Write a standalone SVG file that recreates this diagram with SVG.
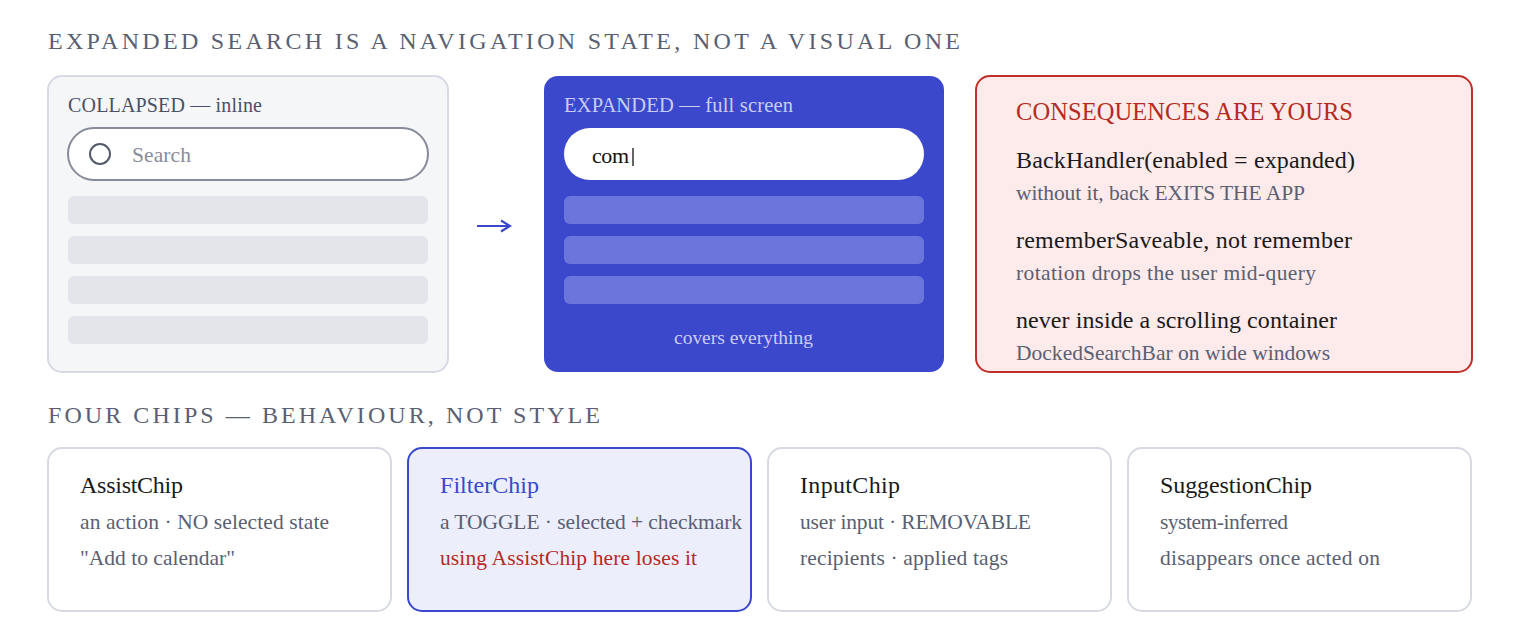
<svg xmlns="http://www.w3.org/2000/svg" width="1520" height="640" viewBox="0 0 1520 640">
<defs>
<marker id="ah" viewBox="0 0 12 14" refX="10" refY="7" markerWidth="12" markerHeight="14" markerUnits="userSpaceOnUse" orient="auto">
<path d="M1,1.5 L10,7 L1,12.5" fill="none" stroke="#3b48cc" stroke-width="2.2"/>
</marker>
</defs>
<style>
text{font-family:"Liberation Serif","DejaVu Serif",serif}
.h{font-size:24px;fill:#5a5f72;letter-spacing:3px}
.lbl{font-size:20px;fill:#4b5064}
.row{fill:#e4e5ea}
.erow{fill:#6b76dc}
.t1{font-size:24px;fill:#1a1a1a}
.t2{font-size:21.5px;fill:#5a5f72}
.chip{fill:#ffffff;stroke:#d8dae3;stroke-width:2}
</style>
<rect width="1520" height="640" fill="#ffffff"/>
<text class="h" x="48" y="49" textLength="915">EXPANDED SEARCH IS A NAVIGATION STATE, NOT A VISUAL ONE</text>
<g id="collapsed">
<rect x="48" y="76" width="400" height="296" rx="14" fill="#f5f6f8" stroke="#d8dae3" stroke-width="2"/>
<text class="lbl" x="68" y="112" textLength="194">COLLAPSED — inline</text>
<rect x="68" y="128" width="360" height="52" rx="26" fill="#ffffff" stroke="#868a9a" stroke-width="2"/>
<circle cx="100" cy="154" r="10" fill="none" stroke="#555a6b" stroke-width="2"/>
<text x="132" y="162" textLength="59" style="font-size:21.5px;fill:#888c9c">Search</text>
<rect class="row" x="68" y="196" width="360" height="28" rx="6"/>
<rect class="row" x="68" y="236" width="360" height="28" rx="6"/>
<rect class="row" x="68" y="276" width="360" height="28" rx="6"/>
<rect class="row" x="68" y="316" width="360" height="28" rx="6"/>
</g>
<g id="connectors">
<line x1="477" y1="226" x2="510" y2="226" stroke="#3b48cc" stroke-width="2.2" marker-end="url(#ah)"/>
</g>
<g id="expanded">
<rect x="544" y="76" width="400" height="296" rx="14" fill="#3b48cc"/>
<text x="564" y="112" textLength="229" style="font-size:20.5px;fill:#c9cdf5">EXPANDED — full screen</text>
<rect x="564" y="128" width="360" height="52" rx="26" fill="#ffffff"/>
<text x="592" y="163" textLength="37" style="font-size:22px;fill:#111111">com</text>
<line x1="633" y1="148" x2="633" y2="166" stroke="#111111" stroke-width="1.3"/>
<rect class="erow" x="564" y="196" width="360" height="28" rx="6"/>
<rect class="erow" x="564" y="236" width="360" height="28" rx="6"/>
<rect class="erow" x="564" y="276" width="360" height="28" rx="6"/>
<text x="674" y="344" textLength="139" style="font-size:19.5px;fill:#c9cdf5">covers everything</text>
</g>
<g id="consequences">
<rect x="976" y="76" width="496" height="296" rx="14" fill="#fdeaea" stroke="#c0302b" stroke-width="2"/>
<text x="1016" y="120" textLength="337" style="font-size:24.5px;fill:#b52a23">CONSEQUENCES ARE YOURS</text>
<text class="t1" x="1016" y="168" textLength="339">BackHandler(enabled = expanded)</text>
<text class="t2" x="1016" y="200" textLength="289">without it, back EXITS THE APP</text>
<text class="t1" x="1016" y="248" textLength="336">rememberSaveable, not remember</text>
<text class="t2" x="1016" y="280" textLength="300">rotation drops the user mid-query</text>
<text class="t1" x="1016" y="328" textLength="321">never inside a scrolling container</text>
<text class="t2" x="1016" y="360" textLength="314">DockedSearchBar on wide windows</text>
</g>
<text class="h" x="48" y="423" textLength="555">FOUR CHIPS — BEHAVIOUR, NOT STYLE</text>
<g id="assistchip">
<rect class="chip" x="48" y="448" width="343" height="163" rx="14"/>
<text class="t1" x="80" y="493" textLength="103">AssistChip</text>
<text class="t2" x="80" y="529" textLength="249">an action · NO selected state</text>
<text class="t2" x="80" y="565" textLength="155">"Add to calendar"</text>
</g>
<g id="filterchip">
<rect x="408" y="448" width="343" height="163" rx="14" fill="#eceefb" stroke="#3b48cc" stroke-width="2"/>
<text x="440" y="493" textLength="99" style="font-size:24px;fill:#3b48cc">FilterChip</text>
<text class="t2" x="440" y="529" textLength="302">a TOGGLE · selected + checkmark</text>
<text x="440" y="565" textLength="257" style="font-size:21.5px;fill:#b52a23">using AssistChip here loses it</text>
</g>
<g id="inputchip">
<rect class="chip" x="768" y="448" width="343" height="163" rx="14"/>
<text class="t1" x="800" y="493" textLength="100">InputChip</text>
<text class="t2" x="800" y="529" textLength="231">user input · REMOVABLE</text>
<text class="t2" x="800" y="565" textLength="208">recipients · applied tags</text>
</g>
<g id="suggestionchip">
<rect class="chip" x="1128" y="448" width="343" height="163" rx="14"/>
<text class="t1" x="1160" y="493" textLength="152">SuggestionChip</text>
<text class="t2" x="1160" y="529" textLength="128">system-inferred</text>
<text class="t2" x="1160" y="565" textLength="220">disappears once acted on</text>
</g>
</svg>
